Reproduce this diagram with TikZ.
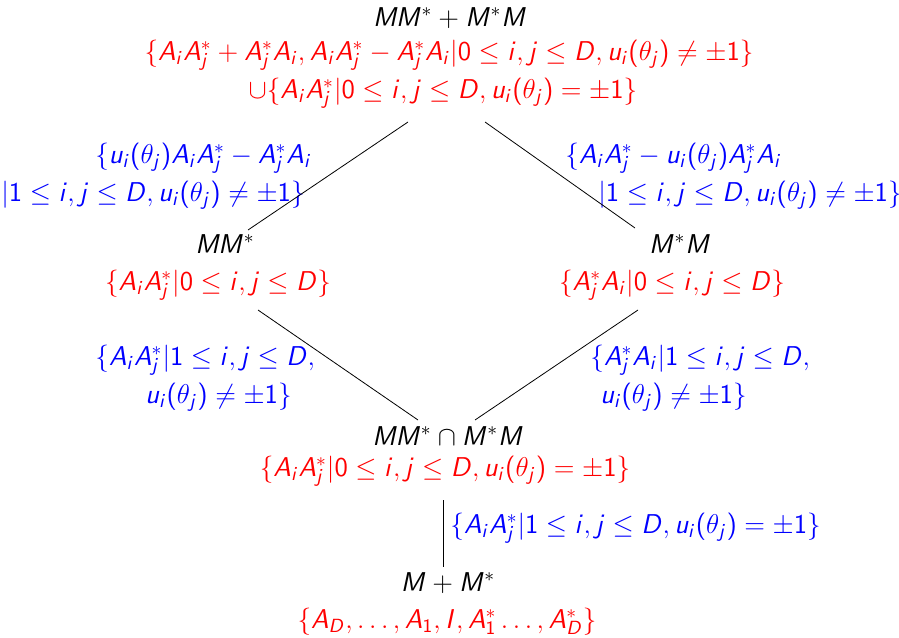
\RequirePackage{fix-cm}
\documentclass[tikz,border=0pt]{standalone}
\DeclareSymbolFont{sfop}{OT1}{cmss}{m}{n}
\DeclareSymbolFont{sfit}{OT1}{cmss}{m}{sl}
\SetSymbolFont{operators}{normal}{OT1}{cmss}{m}{n}
\DeclareMathSymbol{A}{\mathalpha}{sfit}{`A}
\DeclareMathSymbol{D}{\mathalpha}{sfit}{`D}
\DeclareMathSymbol{I}{\mathalpha}{sfit}{`I}
\DeclareMathSymbol{M}{\mathalpha}{sfit}{`M}
\DeclareMathSymbol{i}{\mathalpha}{sfit}{`i}
\DeclareMathSymbol{j}{\mathalpha}{sfit}{`j}
\DeclareMathSymbol{u}{\mathalpha}{sfit}{`u}
\DeclareMathSymbol{0}{\mathalpha}{sfop}{`0}
\DeclareMathSymbol{1}{\mathalpha}{sfop}{`1}
\begin{document}
\begin{tikzpicture}[x=0.5pt,y=-0.5pt,
  txt/.style={inner sep=0pt,font=\fontsize{13.6}{16}\selectfont},
  ttl/.style={txt,text=black},
  setr/.style={txt,text=red},
  setb/.style={txt,text=blue},
  edge/.style={draw=black,line width=0.4pt}]
\useasboundingbox (0,0) rectangle (899,637);
% top
\node[ttl,anchor=base] (t0) at (450,26) {$MM^*+M^*M$};
\node[setr,anchor=base] (t1) at (449,60) {$\{A_iA_j^*+A_j^*A_i,A_iA_j^*-A_j^*A_i|0\le i,j\le D,u_i(\theta_j)\neq\pm1\}$};
\node[setr,anchor=base] (t2) at (443,98) {$\cup\{A_iA_j^*|0\le i,j\le D,u_i(\theta_j)=\pm1\}$};
% upper labels
\node[setb,anchor=base east] (lb1) at (312,163) {$\{u_i(\theta_j)A_iA_j^*-A_j^*A_i$};
\node[setb,anchor=base east] (lb2) at (305,201) {$|1\le i,j\le D,u_i(\theta_j)\neq\pm1\}$};
\node[setb,anchor=base west] (rb1) at (565,163) {$\{A_iA_j^*-u_i(\theta_j)A_j^*A_i$};
\node[setb,anchor=base west] (rb2) at (598,201) {$|1\le i,j\le D,u_i(\theta_j)\neq\pm1\}$};
% middle nodes
\node[ttl,anchor=base] (l0) at (225,253) {$MM^*$};
\node[setr,anchor=base] (l1) at (218,290) {$\{A_iA_j^*|0\le i,j\le D\}$};
\node[ttl,anchor=base] (r0) at (680,253) {$M^*M$};
\node[setr,anchor=base] (r1) at (672,290) {$\{A_j^*A_i|0\le i,j\le D\}$};
% lower labels
\node[setb,anchor=base west] (ml1) at (95,365) {$\{A_iA_j^*|1\le i,j\le D,$};
\node[setb,anchor=base west] (ml2) at (145,403) {$u_i(\theta_j)\neq\pm1\}$};
\node[setb,anchor=base west] (mr1) at (590,365) {$\{A_j^*A_i|1\le i,j\le D,$};
\node[setb,anchor=base west] (mr2) at (600,403) {$u_i(\theta_j)\neq\pm1\}$};
% intersection
\node[ttl,anchor=base] (c0) at (448,445) {$MM^*\cap M^*M$};
\node[setr,anchor=base] (c1) at (445,476) {$\{A_iA_j^*|0\le i,j\le D,u_i(\theta_j)=\pm1\}$};
\node[setb,anchor=base west] (cb) at (450,533) {$\{A_iA_j^*|1\le i,j\le D,u_i(\theta_j)=\pm1\}$};
% bottom
\node[ttl,anchor=base] (b0) at (448,591) {$M+M^*$};
\node[setr,anchor=base] (b1) at (447,628) {$\{A_D,\dots,A_1,I,A_1^*\dots,A_D^*\}$};
% connectors
\coordinate (pTL) at (408,122);
\coordinate (pML) at (248,230);
\coordinate (pTR) at (485,122);
\coordinate (pMR) at (635,228);
\coordinate (qL) at (258,310);
\coordinate (qCL) at (418,420);
\coordinate (qR) at (638,310);
\coordinate (qCR) at (475,420);
\coordinate (vT) at (443,500);
\coordinate (vB) at (443,567);
\draw[edge] (pTL) -- (pML);
\draw[edge] (pTR) -- (pMR);
\draw[edge] (qL) -- (qCL);
\draw[edge] (qR) -- (qCR);
\draw[edge] (vT) -- (vB);
\end{tikzpicture}
\end{document}
